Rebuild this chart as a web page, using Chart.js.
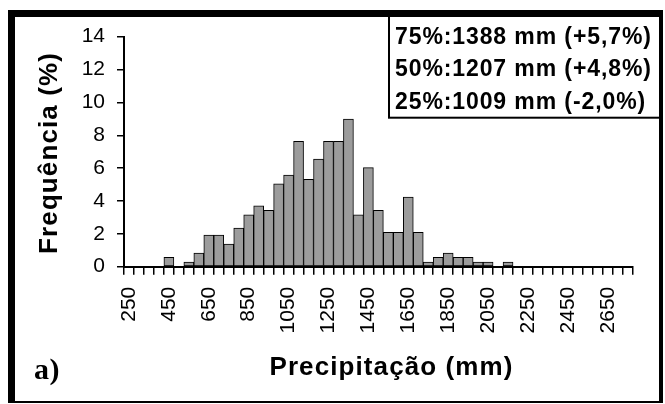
<!DOCTYPE html>
<html><head><meta charset="utf-8">
<script src="https://cdn.jsdelivr.net/npm/chart.js@4/dist/chart.umd.min.js"></script>
<style>html,body{margin:0;padding:0;background:#fff}canvas{display:block}</style>
</head><body>
<canvas id="c" width="665" height="404"></canvas>
<script>
const categories = ['250','300','350','400','450','500','550','600','650','700','750','800','850','900','950','1000','1050','1100','1150','1200','1250','1300','1350','1400','1450','1500','1550','1600','1650','1700','1750','1800','1850','1900','1950','2000','2050','2100','2150','2200','2250','2300','2350','2400','2450','2500','2550','2600','2650','2700','2750'];
const frequencies = [0,0,0,0,0.57,0,0.28,0.83,1.93,1.93,1.38,2.35,3.16,3.71,3.43,5.05,5.58,7.63,5.32,6.55,7.63,7.63,8.99,3.16,6.03,3.43,2.09,2.09,4.24,2.09,0.28,0.57,0.83,0.57,0.57,0.28,0.28,0,0.28,0,0,0,0,0,0,0,0,0,0,0,0];
const xTickLabels = ['250','450','650','850','1050','1250','1450','1650','1850','2050','2250','2450','2650'];
const yMin = 0, yMax = 14, yStep = 2;
const legendLines = ['75%:1388 mm (+5,7%)','50%:1207 mm (+4,8%)','25%:1009 mm (-2,0%)'];
const xTitle = 'Precipitação (mm)';
const yTitle = 'Frequência (%)';
const panelLabel = 'a)';

const decor = {
  id: 'decor',
  beforeDraw(chart) {
    const c = chart.ctx; c.save(); c.fillStyle = '#fff'; c.fillRect(0, 0, chart.width, chart.height); c.restore();
  },
  afterDraw(chart) {
    const c = chart.ctx;
    c.save();
    c.fillStyle = '#000'; c.strokeStyle = '#000';
    // legend box
    c.lineWidth = 2;
    c.strokeRect(389, 16, 271, 101.7);
    c.font = 'bold 23px "Liberation Sans", Arial, sans-serif';
    c.letterSpacing = '0.9px';
    c.textAlign = 'left'; c.textBaseline = 'alphabetic';
    legendLines.forEach((t, i) => c.fillText(t, 395, 43.5 + i * 32.5));
    // x title
    c.font = 'bold 26px "Liberation Sans", Arial, sans-serif';
    c.letterSpacing = '1.1px';
    c.textAlign = 'center';
    c.fillText(xTitle, 391.5, 375);
    // y title
    c.save(); c.translate(57, 153); c.rotate(-Math.PI / 2); c.fillText(yTitle, 0, 0); c.restore();
    // panel label
    c.font = 'bold 30px "Liberation Serif", "Times New Roman", serif';
    c.letterSpacing = '0.5px';
    c.textAlign = 'left';
    c.fillText(panelLabel, 34, 379);
    c.letterSpacing = '0px';
    // frame
    c.fillRect(8, 10, 7, 393);
    c.fillRect(8, 10, 655, 7);
    c.fillRect(659, 10, 4, 393);
    c.fillRect(8, 401, 655, 2);
    c.restore();
  }
};

new Chart(document.getElementById('c'), {
  type: 'bar',
  data: {
    labels: categories,
    datasets: [{
      data: frequencies,
      backgroundColor: '#9c9c9c',
      borderColor: '#000',
      borderWidth: 1,
      barPercentage: 1,
      categoryPercentage: 1,
      borderSkipped: false
    }]
  },
  options: {
    responsive: false,
    animation: false,
    devicePixelRatio: 1,
    layout: { autoPadding: false, padding: { left: 0, right: 5.5, top: 36.7, bottom: 0 } },
    plugins: { legend: { display: false }, tooltip: { enabled: false } },
    scales: {
      x: {
        grid: { display: true, drawOnChartArea: false, drawTicks: true, tickLength: 8, color: '#000', lineWidth: 1.5, offset: true },
        border: { display: true, color: '#000', width: 2 },
        ticks: {
          autoSkip: false, maxRotation: 90, minRotation: 90, padding: 12, color: '#000',
          font: { family: '"Liberation Sans", Arial, sans-serif', size: 21 },
          callback(v, i) { const l = categories[i]; return xTickLabels.includes(l) ? l : ''; }
        },
        afterFit(s) { s.height = 404 - 266.7; }
      },
      y: {
        min: yMin, max: yMax,
        ticks: { stepSize: yStep, padding: 12, color: '#000', font: { family: '"Liberation Sans", Arial, sans-serif', size: 21 } },
        grid: { display: true, drawOnChartArea: false, drawTicks: true, tickLength: 7, color: '#000', lineWidth: 1.5 },
        border: { display: true, color: '#000', width: 2 },
        afterFit(s) { s.width = 124; }
      }
    }
  },
  plugins: [decor]
});
</script>
</body></html>
